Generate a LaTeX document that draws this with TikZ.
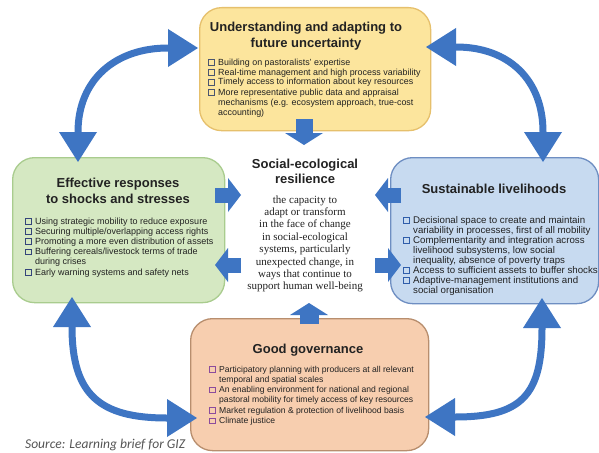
\documentclass[tikz,border=0pt]{standalone}
\usepackage{fontspec}
\setmainfont{Liberation Sans}
\newfontfamily\serifcentre{Liberation Serif}
\newfontfamily\sourcefont{Carlito}
\usetikzlibrary{arrows.meta}
\definecolor{arrB}{HTML}{3E75C3}
\definecolor{yelF}{HTML}{FCE59D}
\definecolor{yelD}{HTML}{E6C06C}
\definecolor{grnF}{HTML}{D5E8C2}
\definecolor{grnD}{HTML}{A9CC8E}
\definecolor{bluF}{HTML}{C7DAF0}
\definecolor{bluD}{HTML}{6E8EC2}
\definecolor{orgF}{HTML}{F7CEAF}
\definecolor{orgD}{HTML}{B88E6E}
\definecolor{txt}{HTML}{222222}
\definecolor{sqY}{HTML}{4A5570}
\definecolor{sqG}{HTML}{34447A}
\definecolor{sqB}{HTML}{2F5DAA}
\definecolor{sqO}{HTML}{8C4C9C}
\definecolor{srcC}{HTML}{555555}
\newcommand\sqbul[1]{\makebox[10pt][l]{\textcolor{#1}{\raisebox{0.2pt}{\fboxsep=0pt\fboxrule=0.75pt\fbox{\rule{0pt}{5pt}\rule{5pt}{0pt}}}}}}
\tikzset{
  panel/.style={line width=1.3pt, rounded corners=22pt, inner sep=0pt, anchor=north west},
  ttl/.style={font=\fontsize{13}{16}\selectfont\bfseries, text=txt, inner sep=0pt, anchor=base},
  blist/.style={text=txt, inner sep=0pt, anchor=base west},
  curv/.style={draw=arrB, line width=7pt,
    {Triangle[length=30pt,width=38pt,line width=0pt]}-{Triangle[length=30pt,width=38pt,line width=0pt]}},
  blkh/.style={draw=arrB, line width=15pt, -{Triangle[length=13pt,width=34pt,line width=0pt]}},
  blkv/.style={draw=arrB, -{Triangle[length=12pt,width=38pt,line width=0pt]}}
}
\begin{document}
\begin{tikzpicture}[x=1pt,y=-1pt]
\useasboundingbox (0,0) rectangle (599,452);
\clip (0,0) rectangle (599,452);
\fill[white] (0,0) rectangle (599,452);

% panels
\node[panel, draw=yelD, fill=yelF, minimum width=231pt, minimum height=123pt] (U) at (199,7) {};
\node[panel, draw=grnD, fill=grnF, minimum width=212pt, minimum height=145pt] (G) at (12,157) {};
\node[panel, draw=bluD, fill=bluF, minimum width=208pt, minimum height=146pt] (S) at (390,157) {};
\node[panel, draw=orgD, fill=orgF, minimum width=238pt, minimum height=132pt] (O) at (190,318) {};

% block arrows
\coordinate (dA) at (304,119); \coordinate (dB) at (304,145);
\coordinate (uA) at (309,324); \coordinate (uB) at (309,303);
\coordinate (gA) at (215,195); \coordinate (gB) at (241,195);
\coordinate (gC) at (241,265); \coordinate (gD) at (215,265);
\coordinate (sA) at (401,195); \coordinate (sB) at (375,195);
\coordinate (sC) at (375,265); \coordinate (sD) at (401,265);
\draw[blkv, line width=17pt] (dA) -- (dB);
\draw[blkv, line width=19pt] (uA) -- (uB);
\draw[blkh] (gA) -- (gB);
\draw[blkh] (gC) -- (gD);
\draw[blkh] (sA) -- (sB);
\draw[blkh] (sC) -- (sD);

% yellow text
\node[ttl] (Ut) at (306,32) {\begin{tabular}[t]{@{}c@{}}Understanding and adapting to\\future uncertainty\end{tabular}};
\node[blist, font=\fontsize{8.9}{10}\selectfont] (Ul) at (208,65) {\begin{tabular}[t]{@{}l@{}l@{}}
\sqbul{sqY} & Building on pastoralists’ expertise\\
\sqbul{sqY} & Real-time management and high process variability\\
\sqbul{sqY} & Timely access to information about key resources\\
\sqbul{sqY} & More representative public data and appraisal\\
 & mechanisms (e.g. ecosystem approach, true-cost\\
 & accounting)
\end{tabular}};

% green text
\node[ttl] (Gt) at (118,187) {\begin{tabular}[t]{@{}c@{}}Effective responses\\to shocks and stresses\end{tabular}};
\node[blist, font=\fontsize{9}{10.2}\selectfont] (Gl) at (25,224) {\begin{tabular}[t]{@{}l@{}l@{}}
\sqbul{sqG} & Using strategic mobility to reduce exposure\\
\sqbul{sqG} & Securing multiple/overlapping access rights\\
\sqbul{sqG} & Promoting a more even distribution of assets\\
\sqbul{sqG} & Buffering cereals/livestock terms of trade\\
 & during crises\\
\sqbul{sqG} & Early warning systems and safety nets
\end{tabular}};

% blue text
\node[ttl] (St) at (494,193) {Sustainable livelihoods};
\node[blist, font=\fontsize{9.7}{10}\selectfont] (Sl) at (403,223) {\begin{tabular}[t]{@{}l@{}l@{}}
\sqbul{sqB} & Decisional space to create and maintain\\
 & variability in processes, first of all mobility\\
\sqbul{sqB} & Complementarity and integration across\\
 & livelihood subsystems, low social\\
 & inequality, absence of poverty traps\\
\sqbul{sqB} & Access to sufficient assets to buffer shocks\\
\sqbul{sqB} & Adaptive-management institutions and\\
 & social organisation
\end{tabular}};

% orange text
\node[ttl] (Ot) at (308,353) {Good governance};
\node[blist, font=\fontsize{8.6}{10.3}\selectfont] (Ol) at (209,372) {\begin{tabular}[t]{@{}l@{}l@{}}
\sqbul{sqO} & Participatory planning with producers at all relevant\\
 & temporal and spatial scales\\
\sqbul{sqO} & An enabling environment for national and regional\\
 & pastoral mobility for timely access of key resources\\
\sqbul{sqO} & Market regulation \& protection of livelihood basis\\
\sqbul{sqO} & Climate justice
\end{tabular}};

% centre
\node[ttl, font=\fontsize{13}{15}\selectfont\bfseries] (Rt) at (305,168) {\begin{tabular}[t]{@{}c@{}}Social-ecological\\resilience\end{tabular}};
\node[anchor=base, inner sep=0pt, text=txt, font=\serifcentre\fontsize{11}{12.4}\selectfont] (Rb) at (305,203) {\begin{tabular}[t]{@{}c@{}}
the capacity to\\adapt or transform\\in the face of change\\in social-ecological\\systems, particularly\\unexpected change, in\\ways that continue to\\support human well-being
\end{tabular}};

% curved double arrows
\coordinate (tlA) at (78,162);  \coordinate (tlB) at (198,48);
\coordinate (trA) at (543,162); \coordinate (trB) at (426,47);
\coordinate (blA) at (72,297);  \coordinate (blB) at (197,418);
\coordinate (brA) at (542,298); \coordinate (brB) at (425,417);
\draw[curv] (tlA) .. controls (78,80) and (115,48) .. (tlB);
\draw[curv] (trA) .. controls (543,80) and (509,47) .. (trB);
\draw[curv] (blA) .. controls (72,395) and (100,418) .. (blB);
\draw[curv] (brA) .. controls (542,395) and (522,417) .. (brB);

% source
\node[anchor=base west, inner sep=0pt, text=srcC, font=\sourcefont\itshape\fontsize{13.5}{16}\selectfont] (src) at (25,448) {Source: Learning brief for GIZ};
\end{tikzpicture}
\end{document}
